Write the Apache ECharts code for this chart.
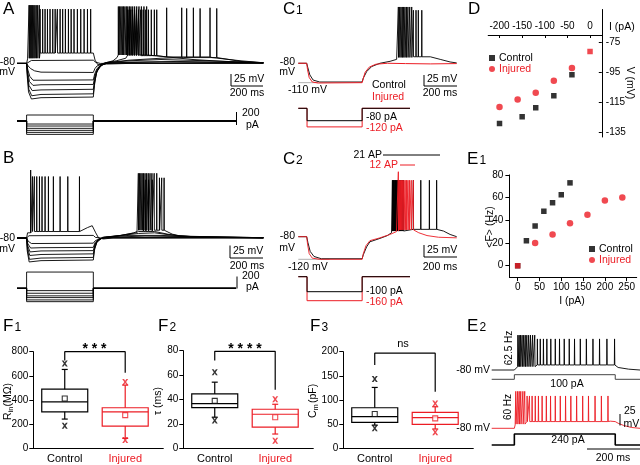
<!DOCTYPE html>
<html><head><meta charset="utf-8">
<script src="https://cdn.jsdelivr.net/npm/echarts@6/dist/echarts.min.js"></script>
<style>html,body{margin:0;padding:0;background:#fff}#c{width:640px;height:465px}</style>
</head><body><div id="c"></div><script>
const RED = '#ec1c24';
const FF = '"Liberation Sans", Arial, sans-serif';

// ===== Panel A (time ms, voltage mV, current pA) =====
const aStep = [60, 477];
const aCurrents = [90, -45, -75, -110, -140, -170, -200];
const aDepPre = [[0,-80],[60,-80],[66,-73]];
const aDepDense = [75, 80, 86, 92, 98, 105, 112, 120, 129, 139];
const aDepRegular = [144, 160, 175, 190, 206, 223, 238, 252, 269, 285, 302, 321, 338, 356, 377, 398, 419, 440, 460];
const aDepPost = [[470,-63],[477,-64],[488,-75],[505,-82],[560,-81],[700,-80],[1540,-80]];
const aSub = [[0,-80],[60,-80],[70,-77],[90,-75.5],[477,-75],[490,-78],[520,-80],[1540,-79.5]];
const aH1 = [[0,-80],[60,-80],[70,-84],[85,-88],[110,-91.5],[150,-93.5],[477,-94],[487,-88],[500,-84],[530,-81],[600,-79],[900,-78],[1540,-79]];
const aH2 = [[0,-80],[60,-80],[68,-90],[80,-100],[100,-106],[150,-106],[477,-105.5],[486,-96],[500,-88],[525,-83],[560,-80],[700,-78],[1000,-77],[1540,-79]];
const aH3 = [[0,-80],[60,-80],[66,-92],[78,-108],[100,-114],[150,-113],[477,-112.5],[486,-100],[500,-90],[525,-83],[560,-79],[700,-76],[900,-74],[1200,-76],[1540,-79]];
const aH4Pre = [[0,-80],[60,-80],[65,-95],[75,-114],[95,-122],[150,-121],[477,-120],[486,-105],[500,-92],[525,-84],[560,-79],[700,-75],[900,-72],[1040,-71]];
const aH4Spikes = [1060, 1144, 1248];
const aH4Post = [[1260,-72],[1400,-77],[1540,-79]];
const aH5Pre = [[0,-80],[60,-80],[65,-98],[74,-120],[92,-130],[150,-128],[477,-127],[485,-110],[498,-94],[520,-84],[550,-79],[620,-76],[680,-72]];
const aH5Burst = [690, 700, 711, 722, 734, 746, 759, 773, 788, 804, 821, 839, 858, 873];
const aH5Sparse = [935, 1029, 1102, 1206];
const aH5Post = [[1220,-71],[1400,-76],[1540,-79]];
const aH6Pre = [[0,-80],[60,-80],[64,-100],[72,-124],[90,-135],[150,-133],[477,-132],[484,-114],[495,-96],[512,-85],[540,-80],[600,-76],[625,-71]];
const aH6Burst = [633, 641, 649, 657, 665, 674, 683, 692, 702, 712, 723, 735, 748, 762, 777, 793, 810];
const aH6Post = [[820,-66],[900,-69],[1100,-74],[1300,-77],[1540,-79]];

// ===== Panel B =====
const bStep = [60, 477];
const bCurrents = [280, -40, -85, -130, -160, -200, -230];
const bDepPre = [[0,-80],[60,-80],[66,-72]];
const bDepFirst = [85];
const bDepSpikes = [96, 108, 123, 140, 156, 175, 196, 227, 269, 317, 390];
const bDepPost = [[400,-68],[440,-64],[470,-61],[480,-62],[492,-72],[510,-80],[540,-81.5],[600,-80],[1540,-80]];
const bSub = [[0,-80],[60,-80],[75,-76.5],[477,-76],[490,-79],[520,-80],[1540,-79.5]];
const bH1 = [[0,-80],[60,-80],[70,-85],[90,-88.5],[150,-88.5],[477,-88],[490,-84],[520,-81],[600,-79],[1540,-79.5]];
const bH2 = [[0,-80],[60,-80],[68,-89],[85,-95.5],[150,-95],[477,-94.5],[488,-87],[510,-82],[560,-79],[800,-77],[1540,-79.5]];
const bH3 = [[0,-80],[60,-80],[67,-92],[82,-101.5],[150,-100],[477,-99.5],[487,-90],[505,-83],[545,-79],[700,-76],[900,-76],[1100,-78],[1540,-79.5]];
const bH4 = [[0,-80],[60,-80],[66,-95],[80,-107],[150,-105.5],[477,-104.5],[486,-93],[503,-84],[540,-79],[650,-76],[760,-73],[860,-72],[950,-75],[1100,-78],[1540,-79.5]];
const bH5Pre = [[0,-80],[60,-80],[65,-98],[78,-113],[150,-111],[477,-110],[485,-96],[500,-86],[535,-79],[650,-76],[740,-72],[760,-70]];
const bH5Burst = [790, 805, 822, 845];
const bH5Post = [[860,-70],[940,-74],[1020,-77],[1540,-80]];
const bH6Pre = [[0,-80],[60,-80],[64,-100],[76,-117],[150,-115],[477,-114],[484,-99],[498,-87],[530,-80],[650,-76],[730,-72],[750,-70]];
const bH6Burst = [758, 766, 774, 782, 791, 800, 810, 820, 831, 843, 857, 873];
const bH6Tail = [890, 904, 919];
const bH6Post = [[925,-70],[970,-74],[1020,-77],[1200,-79],[1540,-80]];

// ===== Panel C1 =====
const c1Step = [53, 387];
const c1Currents = [-80, -120];
const c1Ref = [[0,-110],[120,-110]];
const c1CtrlPre = [[0,-80],[51,-80],[58,-87],[70,-98],[90,-106],[130,-109],[387,-109],[394,-103],[414,-93],[445,-85],[495,-80],[556,-77],[596,-74]];
const c1CtrlDense = [606, 614, 622, 630, 638, 646, 655, 664, 675, 687];
const c1CtrlSparse = [697, 713, 727, 748];
const c1CtrlPost = [[755,-67],[800,-70],[860,-74],[920,-78],[960,-79.5]];
const c1Inj = [[0,-80],[51,-80],[56,-90],[66,-102],[85,-109],[120,-110.5],[387,-110],[393,-104],[405,-94],[430,-86],[470,-81.5],[540,-80],[650,-80.5],[800,-81],[960,-80.5]];

// ===== Panel C2 =====
const c2Step = [53, 387];
const c2Currents = [-100, -160];
const c2Ref = [[0,-120],[190,-120]];
const c2CtrlPre = [[0,-80],[51,-80],[58,-90],[72,-106],[95,-115],[140,-119],[387,-119],[394,-112],[414,-98],[434,-89],[495,-83],[540,-78],[565,-73]];
const c2CtrlDense = [570, 573, 577, 581, 585, 589, 593, 597, 601, 605, 609, 613, 617, 622, 627, 632, 637];
const c2CtrlSparse = [697, 742, 794, 838];
const c2CtrlPost = [[845,-66],[880,-70],[920,-76],[960,-80]];
const c2InjPre = [[0,-80],[51,-80],[56,-93],[66,-110],[85,-118],[130,-120],[387,-120],[393,-111],[410,-96],[434,-87],[495,-82],[556,-76],[595,-71]];
const c2InjFirst = [606];
const c2InjRest = [612, 618, 625, 632, 639, 647, 655, 664, 673, 684, 697];
const c2InjPost = [[705,-68],[730,-73],[780,-78],[850,-81],[960,-82]];

// ===== Panel D (I-V) =====
const dCtrlI = [-200, -150, -120, -80, -40];
const dCtrlV = [-129, -124.5, -118.5, -110.5, -96.5];
const dInjI = [-200, -160, -120, -80, -40, 0];
const dInjV = [-118, -113, -108.5, -100.5, -92, -81];
const dXTicks = [-200, -150, -100, -50, 0];
const dYTicks = [-75, -95, -115, -135];

// ===== Panel E1 (F-I) =====
const eCtrlI = [0, 20, 40, 60, 80, 100, 120];
const eCtrlF = [0, 22, 35, 48, 55.5, 62.5, 73];
const eInjI = [0, 40, 80, 120, 160, 200, 240];
const eInjF = [0, 20, 27.5, 37.5, 45, 57.5, 60];
const eXTicks = [0, 50, 100, 150, 200, 250];
const eYTicks = [0, 20, 40, 60, 80];

// ===== Panel E2 =====
const e2Step = [86, 469];
const e2Currents = [100, 240];
const e2CtrlPre = [[0,-80],[86,-80],[92,-76]];
const e2CtrlDense = [99, 104, 109, 115, 121, 127, 133, 140, 147, 155, 163];
const e2CtrlSparse = [173, 184, 196, 209, 224, 241, 257, 275, 294, 314, 336, 359, 384, 409, 437, 466];
const e2CtrlPost = [[472,-72],[480,-74],[520,-78],[563,-80]];
const e2InjPre = [[0,-80],[86,-80],[89,-72]];
const e2InjEarly = [91, 98, 104, 110, 118, 125];
const e2InjLate = [134, 143, 153, 165, 177, 191, 207, 223, 241, 260, 280, 300, 322, 345, 367, 392, 416, 441];
const e2InjPost = [[450,-63],[469,-64],[480,-68],[500,-73],[530,-78],[563,-80]];

// ===== Panels F (box stats: whiskerLow, Q1, median, Q3, whiskerHigh) =====
const fCategories = ['Control', 'Injured'];
const f1Control = [242, 302, 385, 490, 653]; const f1ControlMean = 413; const f1ControlMinMax = [187, 702];
const f1Injured = [82, 184, 302, 336, 523];  const f1InjuredMean = 275; const f1InjuredMinMax = [69, 550];
const f2Control = [25.5, 33.4, 36.6, 44.6, 54.2]; const f2ControlMean = 38.9; const f2ControlMinMax = [22.7, 62.4];
const f2Injured = [11.7, 17.3, 27.9, 32, 36.1];   const f2InjuredMean = 25.5; const f2InjuredMinMax = [6.2, 40.2];
const f3Control = [48, 53.8, 65.4, 84, 126]; const f3ControlMean = 71; const f3ControlMinMax = [41.4, 143.5];
const f3Injured = [40, 49.7, 63.4, 74.5, 86]; const f3InjuredMean = 62; const f3InjuredMinMax = [33, 93];
const f1Bracket = [728, 800, 625]; const f2Bracket = [72, 79.5, 48]; const f3Bracket = [172.5, 197, 117];
const fSignif = ['* * *', '* * * *', 'ns'];

// ---------- helpers ----------
function spikes(times, base, peak) {
  const out = [];
  times.forEach(t => { out.push([t - 0.4, base], [t + 0.4, peak], [t + 1.4, base]); });
  return out;
}
function trace(...parts) { return [].concat(...parts); }
function step(on, off, level, end) { return [[0,0],[on,0],[on,level],[off,level],[off,0],[end,0]]; }
function zip(a, b) { return a.map((v, i) => [v, b[i]]); }

const series = [];
function lineS(gi, data, color, w, z) {
  series.push({type:'line', xAxisIndex:gi, yAxisIndex:gi, data, symbol:'none', showSymbol:false, silent:true,
    animation:false, lineStyle:{color, width:w || 1}, itemStyle:{color}, z: z || 2});
}

// A
[aH1, aH2, aH3].forEach(d => lineS(0, d, '#000', 0.9));
lineS(0, trace(aH4Pre, spikes(aH4Spikes, -71, 5), aH4Post), '#000', 0.9);
lineS(0, trace(aH5Pre, spikes(aH5Burst, -68, 3), spikes(aH5Sparse, -70, 6), aH5Post), '#000', 0.9);
lineS(0, trace(aH6Pre, spikes(aH6Burst, -67, 8), aH6Post), '#000', 0.9);
lineS(0, aSub, '#000', 0.9);
lineS(0, trace(aDepPre, spikes(aDepDense, -72, 10), spikes(aDepRegular, -64, 4), aDepPost), '#000', 0.9);
aCurrents.forEach(I => lineS(1, step(aStep[0], aStep[1], I, 1369), '#000', 0.9));
// B
[bH1, bH2, bH3, bH4].forEach(d => lineS(2, d, '#000', 0.9));
lineS(2, trace(bH5Pre, spikes(bH5Burst, -70, 10), bH5Post), '#000', 0.9);
lineS(2, trace(bH6Pre, spikes(bH6Burst, -68, 20), spikes(bH6Tail, -68, 13), bH6Post), '#000', 0.9);
lineS(2, bSub, '#000', 0.9);
lineS(2, trace(bDepPre, spikes(bDepFirst, -72, 25), spikes(bDepSpikes, -70, 15), bDepPost), '#000', 0.9);
bCurrents.forEach(I => lineS(3, step(bStep[0], bStep[1], I, 1369), '#000', 0.9));
// C1
lineS(4, c1Ref, '#b0b0b0', 1);
lineS(4, trace(c1CtrlPre, spikes(c1CtrlDense, -71, 7), spikes(c1CtrlSparse, -70, 2), c1CtrlPost), '#000', 0.9);
lineS(4, c1Inj, RED, 1);
lineS(5, step(c1Step[0], c1Step[1], c1Currents[1], 677), RED, 1);
lineS(5, step(c1Step[0], c1Step[1], c1Currents[0], 677), '#000', 1);
// C2
lineS(6, c2Ref, '#b0b0b0', 1);
lineS(6, trace(c2CtrlPre, spikes(c2CtrlDense, -70, 20), spikes(c2CtrlSparse, -67, 20), c2CtrlPost), '#000', 0.9);
lineS(6, trace(c2InjPre, spikes(c2InjFirst, -70, 35), spikes(c2InjRest, -68, 20), c2InjPost), RED, 0.9);
lineS(7, step(c2Step[0], c2Step[1], c2Currents[1], 677), RED, 1);
lineS(7, step(c2Step[0], c2Step[1], c2Currents[0], 677), '#000', 1);
// D
series.push({type:'scatter', name:'Control', xAxisIndex:8, yAxisIndex:8, symbol:'rect', symbolSize:5.5,
  itemStyle:{color:'#000'}, data: zip(dCtrlI, dCtrlV), animation:false});
series.push({type:'scatter', name:'Injured', xAxisIndex:8, yAxisIndex:8, symbol:'circle', symbolSize:6.5,
  itemStyle:{color:RED}, data: zip(dInjI, dInjV).map(p => p[0] === 0 ? {value:p, symbol:'rect', symbolSize:5.5} : p), animation:false});
// E1
series.push({type:'scatter', name:'Control', xAxisIndex:10, yAxisIndex:10, symbol:'rect', symbolSize:5.5,
  itemStyle:{color:'#000'}, data: zip(eCtrlI, eCtrlF), animation:false});
series.push({type:'scatter', name:'Injured', xAxisIndex:10, yAxisIndex:10, symbol:'circle', symbolSize:6.5,
  itemStyle:{color:RED}, data: zip(eInjI, eInjF).map(p => p[0] === 0 ? {value:p, symbol:'rect', symbolSize:5.5} : p), animation:false});
// E2
lineS(11, trace(e2CtrlPre, spikes(e2CtrlDense, -72, 3), spikes(e2CtrlSparse, -68, -6), e2CtrlPost), '#000', 0.9);
lineS(12, step(e2Step[0], e2Step[1], e2Currents[0], 563), '#444', 1);
lineS(13, trace(e2InjPre, spikes(e2InjEarly, -70, 8), spikes(e2InjLate, -64, -3), e2InjPost), RED, 0.9);
lineS(14, step(e2Step[0], e2Step[1], e2Currents[1], 563), '#000', 1.6);

// F box plots
function boxRender(params, api) {
  const x = api.value(0);
  const c = v => api.coord([x, v]);
  const wl = c(api.value(1)), q1 = c(api.value(2)), md = c(api.value(3)), q3 = c(api.value(4)), wh = c(api.value(5));
  const cx = md[0], hw = 23, cap = 3;
  const st = {stroke: api.visual('color'), lineWidth: 1.2, fill: null};
  return {type:'group', children:[
    {type:'rect', shape:{x:cx-hw, y:q3[1], width:2*hw, height:q1[1]-q3[1]}, style:{stroke: api.visual('color'), lineWidth:1.2, fill:'transparent'}},
    {type:'line', shape:{x1:cx-hw, y1:md[1], x2:cx+hw, y2:md[1]}, style:st},
    {type:'line', shape:{x1:cx, y1:q3[1], x2:cx, y2:wh[1]}, style:st},
    {type:'line', shape:{x1:cx, y1:q1[1], x2:cx, y2:wl[1]}, style:st},
    {type:'line', shape:{x1:cx-cap, y1:wh[1], x2:cx+cap, y2:wh[1]}, style:st},
    {type:'line', shape:{x1:cx-cap, y1:wl[1], x2:cx+cap, y2:wl[1]}, style:st}
  ]};
}
const XMARK = 'path://M0,0L3,0L5,3L7,0L10,0L6.5,5L10,10L7,10L5,7L3,10L0,10L3.5,5Z';
const fPanels = [
  {gi:15, ctrl:f1Control, inj:f1Injured, cm:f1ControlMean, im:f1InjuredMean, cmm:f1ControlMinMax, imm:f1InjuredMinMax, br:f1Bracket},
  {gi:16, ctrl:f2Control, inj:f2Injured, cm:f2ControlMean, im:f2InjuredMean, cmm:f2ControlMinMax, imm:f2InjuredMinMax, br:f2Bracket},
  {gi:17, ctrl:f3Control, inj:f3Injured, cm:f3ControlMean, im:f3InjuredMean, cmm:f3ControlMinMax, imm:f3InjuredMinMax, br:f3Bracket}
];
fPanels.forEach(p => {
  [[1, p.ctrl, '#000'], [2, p.inj, RED]].forEach(([xi, stats, col]) => {
    series.push({type:'custom', xAxisIndex:p.gi, yAxisIndex:p.gi, renderItem: boxRender, itemStyle:{color:col},
      encode:{x:0, y:[1,2,3,4,5]}, data:[[xi].concat(stats)], animation:false, silent:true});
  });
  [[1, p.cm, p.cmm, '#000'], [2, p.im, p.imm, RED]].forEach(([xi, mean, mm, col]) => {
    series.push({type:'scatter', xAxisIndex:p.gi, yAxisIndex:p.gi, symbol:'rect', symbolSize:5,
      itemStyle:{color:'#fff', borderColor:col, borderWidth:1.1}, data:[[xi, mean]], z:4, animation:false, silent:true});
    series.push({type:'scatter', xAxisIndex:p.gi, yAxisIndex:p.gi, symbol:XMARK, symbolSize:6,
      itemStyle:{color:col}, data:mm.map(v => [xi, v]), z:4, animation:false, silent:true});
  });
  lineS(p.gi, [[1, p.br[0]], [1, p.br[1]], [2, p.br[1]], [2, p.br[2]]], '#000', 1.2);
});

// ---------- grids & axes ----------
const grids = [
  {left:17, top:0, width:246.4, height:108.7},      //0 A
  {left:17, top:111, width:246.4, height:26.7},     //1 A stim
  {left:17, top:166.8, width:246.4, height:116.5},  //2 B
  {left:17, top:270.9, width:246.4, height:32.5},   //3 B stim
  {left:298.3, top:1.8, width:158.4, height:93.8},  //4 C1
  {left:298.3, top:105.2, width:158.4, height:26.35},//5 C1 stim
  {left:298.3, top:168.9, width:158.4, height:96.05},//6 C2
  {left:298.3, top:273.7, width:158.4, height:30},  //7 C2 stim
  {left:488.2, top:9.5, width:113.6, height:127.5}, //8 D
  {left:488.2, top:35, width:113.6, height:1},      //9 D x axis
  {left:509.4, top:174.9, width:127.3, height:102.2},//10 E1
  {left:491.7, top:330.1, width:148.3, height:46.2},//11 E2 ctrl
  {left:491.7, top:372.4, width:148.3, height:9.2}, //12 E2 ctrl stim
  {left:491.7, top:386.3, width:148.3, height:48.3},//13 E2 inj
  {left:491.7, top:432.1, width:148.3, height:15.2},//14 E2 inj stim
  {left:33.3, top:351.7, width:130, height:96.6},   //15 F1
  {left:183.3, top:350.7, width:130, height:97.6},  //16 F2
  {left:343.3, top:351.7, width:130, height:96.6}   //17 F3
];
const AX = {color:'#000', width:1};
function hid(gi, min, max) { return {gridIndex:gi, type:'value', min, max, show:false}; }
const xAxes = [
  hid(0,0,1540), hid(1,0,1540), hid(2,0,1540), hid(3,0,1540),
  hid(4,0,960), hid(5,0,960), hid(6,0,960), hid(7,0,960),
  hid(8,-225,26),
  {gridIndex:9, type:'value', min:-225, max:26, position:'top', axisLine:{show:true, onZero:false, lineStyle:AX},
    axisTick:{show:true, inside:true, length:3, customValues:dXTicks, lineStyle:AX},
    axisLabel:{customValues:dXTicks, fontSize:10, color:'#000', margin:4, fontFamily:FF}, splitLine:{show:false}},
  {gridIndex:10, type:'value', min:-19, max:273, position:'bottom', axisLine:{show:true, onZero:false, lineStyle:AX},
    axisTick:{show:true, length:4, customValues:eXTicks, lineStyle:AX},
    axisLabel:{customValues:eXTicks, fontSize:10, color:'#000', margin:5, fontFamily:FF}, splitLine:{show:false}},
  hid(11,0,563), hid(12,0,563), hid(13,0,563), hid(14,0,563)
];
const yAxes = [
  hid(0,-150,18), hid(1,-250,150), hid(2,-150,30), hid(3,-260,300),
  hid(4,-130,15), hid(5,-150,20), hid(6,-130,40), hid(7,-180,20),
  {gridIndex:8, type:'value', min:-138, max:-53, position:'right', axisLine:{show:true, onZero:false, lineStyle:AX},
    axisTick:{show:true, inside:true, length:3, customValues:dYTicks, lineStyle:AX},
    axisLabel:{customValues:dYTicks, fontSize:10, color:'#000', margin:4, fontFamily:FF}, splitLine:{show:false}},
  hid(9,0,1),
  {gridIndex:10, type:'value', min:-10, max:80, axisLine:{show:true, onZero:false, lineStyle:AX},
    axisTick:{show:true, length:4, customValues:eYTicks, lineStyle:AX},
    axisLabel:{customValues:eYTicks, fontSize:10, color:'#000', margin:6, fontFamily:FF}, splitLine:{show:false}},
  hid(11,-95,15), hid(12,-50,150), hid(13,-95,20), hid(14,-50,280)
];
[[15,800,200],[16,80,20],[17,200,50]].forEach(([gi, max, iv]) => {
  xAxes.push({gridIndex:gi, type:'value', min:0.48, max:2.63, axisLine:{show:true, onZero:false, lineStyle:AX},
    axisTick:{show:false}, splitLine:{show:false},
    axisLabel:{customValues:[1,2], margin:5, fontSize:11, fontFamily:FF,
      formatter: v => Math.round(v) === 1 ? '{c|' + fCategories[0] + '}' : '{i|' + fCategories[1] + '}',
      rich:{c:{color:'#000', fontSize:11, fontFamily:FF}, i:{color:RED, fontSize:11, fontFamily:FF}}}});
  yAxes.push({gridIndex:gi, type:'value', min:0, max, interval:iv, axisLine:{show:true, onZero:false, lineStyle:AX},
    axisTick:{show:true, length:4, lineStyle:AX}, splitLine:{show:false},
    axisLabel:{fontSize:10, color:'#000', margin:5, fontFamily:FF}});
});

// ---------- annotations ----------
const G = [];
function txt(x, y, s, o) {
  o = o || {};
  G.push({type:'text', x, y, rotation:o.rot || 0, silent:true, z:10,
    style:{text:s, fill:o.color || '#000', fontSize:o.size || 10.5, fontFamily:FF, fontWeight:o.w || 'normal',
      align:o.align || 'left', verticalAlign:'middle', textAlign:o.align || 'left', textVerticalAlign:'middle'}});
}
function pl(points, color, w) {
  G.push({type:'polyline', silent:true, z:10, shape:{points}, style:{stroke:color || '#000', lineWidth:w || 1, fill:null}});
}
const L = 17, S = 12;
// panel letters
txt(3, 9, 'A', {size:L}); txt(3, 158.5, 'B', {size:L});
txt(283, 9, 'C', {size:L}); txt(296, 11, '1', {size:S});
txt(283, 159, 'C', {size:L}); txt(296, 161, '2', {size:S});
txt(468, 9, 'D', {size:L});
txt(467, 159, 'E', {size:L}); txt(479.5, 161, '1', {size:S});
txt(467, 326, 'E', {size:L}); txt(479.5, 328, '2', {size:S});
txt(3, 326, 'F', {size:L}); txt(14.5, 328, '1', {size:S});
txt(158, 326, 'F', {size:L}); txt(169.5, 328, '2', {size:S});
txt(310, 326, 'F', {size:L}); txt(321.5, 328, '3', {size:S});
// A / B
txt(15, 62, '-80', {align:'right'}); txt(15, 72.5, 'mV', {align:'right'});
txt(15, 237.7, '-80', {align:'right'}); txt(15, 249.5, 'mV', {align:'right'});
pl([[231,74],[231,86],[263,86]]); txt(234, 79, '25 mV'); txt(247, 93, '200 ms', {align:'center'});
pl([[236.5,112],[236.5,125]]); txt(242, 113, '200'); txt(246, 125, 'pA');
pl([[230,245.5],[230,258],[263,258]]); txt(233, 251, '25 mV'); txt(247, 266, '200 ms', {align:'center'});
pl([[237,276.5],[237,288.5]]); txt(242, 276, '200'); txt(246, 287.5, 'pA');
// C1
txt(295, 62, '-80', {align:'right'}); txt(295, 72.5, 'mV', {align:'right'}); txt(288, 90, '-110 mV');
txt(372, 85, 'Control'); txt(372, 97, 'Injured', {color:RED});
txt(366, 117.5, '-80 pA'); txt(366, 128.5, '-120 pA', {color:RED});
pl([[424,75],[424,86],[457,86]]); txt(427, 79.5, '25 mV'); txt(440, 93, '200 ms', {align:'center'});
// C2
txt(382, 155, '21 AP', {align:'right'}); pl([[383,155],[440,155]]);
txt(398, 165, '12 AP', {align:'right', color:RED}); pl([[400,165],[415,165]], RED);
txt(295, 236, '-80', {align:'right'}); txt(295, 248, 'mV', {align:'right'}); txt(288, 267, '-120 mV');
txt(366, 291, '-100 pA'); txt(366, 302, '-160 pA', {color:RED});
pl([[424,245],[424,257],[457,257]]); txt(427, 250.5, '25 mV'); txt(440, 267, '200 ms', {align:'center'});
// D
txt(609, 27, 'I (pA)', {size:10.5}); txt(630, 83, 'V (mV)', {rot:-Math.PI/2, align:'center', size:10.5});
// E1
txt(490, 227, '<F> (Hz)', {rot:Math.PI/2, align:'center', size:10.5}); txt(572, 301, 'I (pA)', {align:'center', size:10.5});
// E2
txt(509, 348, '62.5 Hz', {rot:Math.PI/2, align:'center', size:10}); txt(508, 407, '60 Hz', {rot:Math.PI/2, align:'center', size:10});
txt(490, 370, '-80 mV', {align:'right'}); txt(490, 428.5, '-80 mV', {align:'right'});
txt(567, 384.5, '100 pA', {align:'center'}); txt(568, 440, '240 pA', {align:'center'});
pl([[620,414],[620,425.5]]); txt(624, 411, '25'); txt(623.5, 424, 'mV');
pl([[587,449],[640,449]]); txt(613, 458.5, '200 ms', {align:'center'});
// F axis titles and significance
txt(8, 420, 'R', {rot:Math.PI/2, size:10.5}); txt(10.5, 412.5, 'in', {rot:Math.PI/2, size:7.5});
txt(8, 406.5, '(MΩ)', {rot:Math.PI/2, size:10.5});
txt(158, 401, 'τ (ms)', {rot:Math.PI/2, align:'center', size:10.5});
txt(313, 418, 'C', {rot:Math.PI/2, size:10.5}); txt(315.5, 410.5, 'm', {rot:Math.PI/2, size:7.5});
txt(313, 403, '(pF)', {rot:Math.PI/2, size:10.5});
txt(94.5, 349, fSignif[0], {align:'center', size:14, w:'bold'});
txt(245, 349, fSignif[1], {align:'center', size:14, w:'bold'});
txt(403, 344, fSignif[2], {align:'center', size:11});

const legendBase = {orient:'vertical', itemWidth:6, itemHeight:6, itemGap:0, selectedMode:false,
  textStyle:{fontSize:10.5, color:'#000', fontFamily:FF, padding:[0,0,0,-1]}};
const option = {
  animation:false,
  backgroundColor:'#fff',
  textStyle:{fontFamily:FF},
  grid:grids, xAxis:xAxes, yAxis:yAxes, series,
  legend:[
    Object.assign({}, legendBase, {left:484, top:47.5,
      data:[{name:'Control', icon:'rect'}, {name:'Injured', icon:'circle', textStyle:{color:RED}}]}),
    Object.assign({}, legendBase, {left:584, top:238.5,
      data:[{name:'Control', icon:'rect'}, {name:'Injured', icon:'circle', textStyle:{color:RED}}]})
  ],
  graphic:{elements:G}
};
const chart = echarts.init(document.getElementById('c'), null, {renderer:'canvas'});
chart.setOption(option);
</script></body></html>
